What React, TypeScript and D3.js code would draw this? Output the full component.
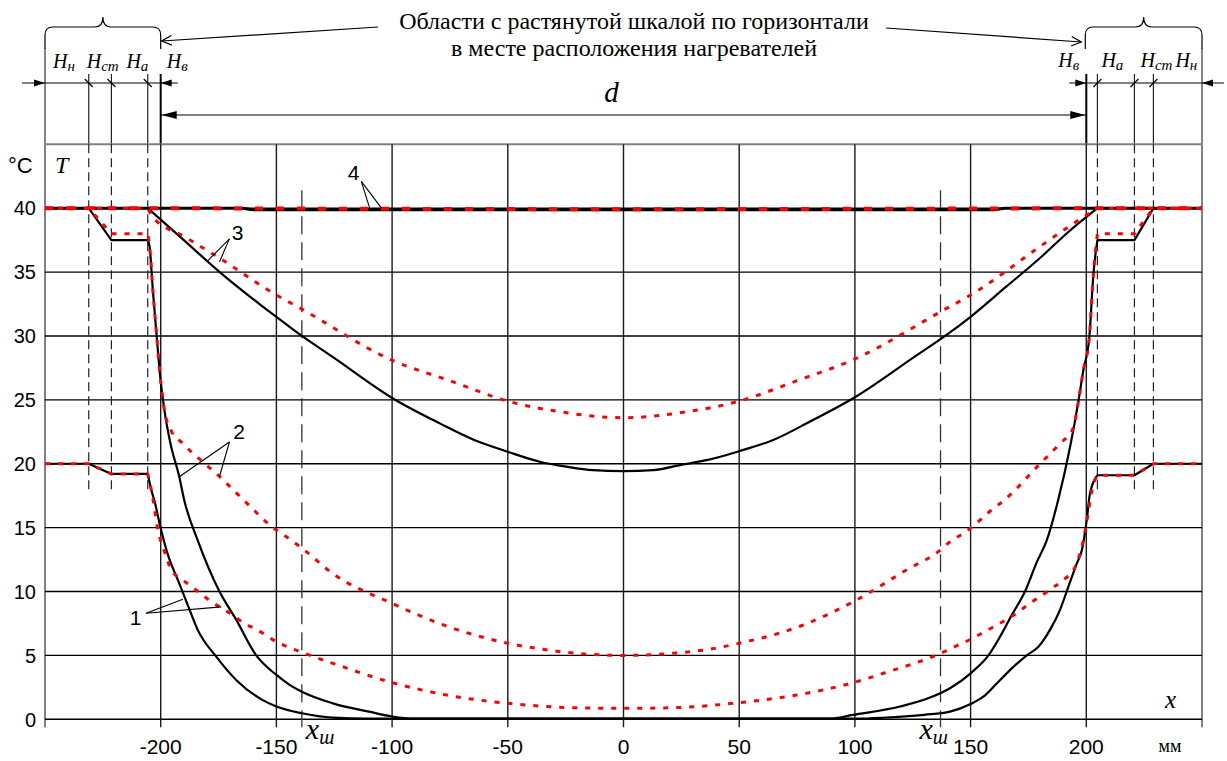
import React from "react";
import * as d3 from "d3";

type P = [number, number];

// ---- axes ----
const yTickValues = [0, 5, 10, 15, 20, 25, 30, 35, 40];
const xTickValues = [-200, -150, -100, -50, 0, 50, 100, 150, 200];
const xTickLabels = ["-200", "-150", "-100", "-50", "0", "50", "100", "150", "200"];
const xEdgeValues = [-250, 250];
const heaterEdges = [-200, 200];
const layersLeft = [-231.1, -221.3, -205.6];
const layersRight = [204.8, 220.8, 229.0];
const xShValues = [-139, 137];
const hSubsLeft = ["н", "ст", "а", "в"];
const hSubsRight = ["в", "а", "ст", "н"];
const titleLines = [
  "Области с растянутой шкалой по горизонтали",
  "в месте расположения нагревателей",
];

// ---- series (x in mm, T in °C) ----
const curve4Black: P[] = [
  [-250, 40], [-205.6, 40], [-165, 40], [-160, 39.88], [160, 39.88], [165, 40], [204.8, 40], [250, 40],
];
const curve4Red: P[] = [
  [-250, 40], [-205.6, 40], [-100, 39.95], [0, 39.92], [100, 39.95], [204.8, 40], [250, 40],
];
const curve3Black: P[] = [
  [-250, 40], [-205.6, 40], [-190, 37.5], [-174.5, 35.0], [-157.3, 32.5], [-150, 31.5], [-139, 30.0],
  [-126, 28.4], [-100, 25.15], [-79.4, 23.16], [-65, 21.9], [-50, 20.94], [-36.2, 20.16],
  [-24.7, 19.77], [-13.2, 19.5], [0, 19.43], [12.8, 19.5], [25.8, 19.95], [36.5, 20.3],
  [50.3, 21.0], [64.7, 21.86], [80.6, 23.3], [100, 25.2], [126, 28.4], [139, 30.0],
  [150, 31.5], [165, 33.8], [180, 36.1], [192, 38.1], [204.8, 40], [250, 40],
];
const curve3Red: P[] = [
  [-250, 40], [-205.6, 40], [-203.4, 39.3], [-190, 37.8], [-174.6, 36.1], [-150, 33.2], [-139, 32.1],
  [-100, 28.1], [-75, 26.5], [-50, 24.9], [-27.5, 24.07], [0, 23.6], [27.5, 24.07], [50, 24.9],
  [75, 26.5], [100, 28.2], [139, 32.1], [150, 33.2], [180, 37.0], [194.4, 38.8], [204.8, 40], [250, 40],
];
const curve2Black: P[] = [
  [-250, 40], [-231.1, 40], [-221.3, 37.5], [-205.6, 37.5], [-204.8, 37.0], [-203.4, 33.6],
  [-201.7, 29.9], [-200.2, 26.8], [-198.4, 24.2], [-195.8, 21.6], [-192, 19.0], [-189.9, 17.2],
  [-184, 14.0], [-174.6, 10.0], [-167.4, 7.8], [-158.7, 5.0], [-150, 3.47], [-144.3, 2.7],
  [-139, 2.16], [-125.6, 1.25], [-110, 0.6], [-100, 0.22], [-90, 0.06], [-50, 0.05], [0, 0.05],
  [50, 0.05], [90, 0.06], [99, 0.34], [119.5, 1.0], [132.5, 1.7], [141.1, 2.43], [150, 3.6],
  [157.7, 5.0], [162.7, 6.46], [167.8, 8.16], [173.5, 10.0], [178.6, 12.3], [182.9, 14.0],
  [187.9, 17.2], [193.2, 21.5], [196.6, 24.9], [198.7, 27.3], [201.3, 29.9], [203.1, 34.9],
  [204.8, 37.5], [220.8, 37.5], [229, 40], [250, 40],
];
const curve2Red: P[] = [
  [-250, 40], [-231.1, 40], [-221.3, 38], [-205.6, 38], [-204.8, 37.0], [-203.4, 33.6],
  [-201.7, 29.9], [-200.2, 26.8], [-198.4, 24.2], [-195.5, 22.6], [-190.5, 21.6], [-174.6, 19.0],
  [-161, 16.6], [-152.9, 15.2], [-145, 14.2], [-139, 13.4], [-125.6, 11.4], [-100, 9.07],
  [-76.5, 7.3], [-50, 5.95], [-37.6, 5.56], [-20.3, 5.16], [0, 5.0], [20.3, 5.15], [37.6, 5.5],
  [50, 5.95], [76.5, 7.3], [99.3, 9.2], [122.4, 11.7], [137, 13.25], [141.1, 13.9], [146.9, 14.55],
  [154.8, 15.7], [159.1, 16.4], [164.2, 17.1], [180, 20.0], [188.7, 21.6], [194.4, 22.8],
  [196.6, 24.9], [198.7, 27.3], [201.3, 29.9], [203.1, 34.9], [204.8, 38], [220.8, 38], [229, 40],
  [250, 40],
];
const curve1Black: P[] = [
  [-250, 20], [-231.1, 20], [-221.3, 19.2], [-205.6, 19.2], [-204, 17.9], [-202.7, 17.1],
  [-200, 14.95], [-197.1, 13.0], [-192, 10.64], [-188, 8.8], [-184, 7.0], [-176, 4.9],
  [-167.4, 3.08], [-155.9, 1.5], [-150, 1.0], [-139, 0.47], [-125.6, 0.13], [-110, 0.05], [0, 0.05],
  [100, 0.05], [112, 0.12], [130, 0.35], [141.1, 0.6], [150, 1.2], [155.5, 1.77], [161.3, 2.8],
  [168.5, 4.1], [174.3, 5.0], [179.3, 5.68], [184.3, 7.0], [188.6, 8.55], [192.3, 10.4],
  [195.9, 12.2], [198.1, 13.25], [200.2, 15.6], [201.6, 17.7], [204.8, 19.1], [220.8, 19.1],
  [229, 20], [250, 20],
];
const curve1Red: P[] = [
  [-250, 20], [-231.1, 20], [-221.3, 19.2], [-205.6, 19.2], [-204, 17.9], [-202.7, 16.5],
  [-201.7, 15.3], [-200.5, 14.3], [-197.9, 12.9], [-195.5, 11.7], [-190.4, 10.9], [-184.6, 10.1],
  [-179.6, 9.4], [-174.6, 8.8], [-168.8, 8.16], [-163.8, 7.5], [-158.7, 7.04], [-150, 6.07],
  [-139, 5.24], [-125.6, 4.38], [-100, 2.87], [-76.5, 1.9], [-50, 1.25], [-20, 0.9], [0, 0.86],
  [20, 0.9], [50, 1.3], [74.8, 1.9], [99.3, 2.87], [112.3, 3.6], [137, 5.16], [146.2, 5.95],
  [150, 6.26], [155.5, 6.8], [160.6, 7.3], [166.3, 7.9], [171.4, 8.5], [175.7, 9.1], [180, 9.6],
  [185.1, 10.25], [190.8, 11.0], [195.1, 11.9], [198.7, 14.0], [200.5, 15.8], [202.4, 17.9],
  [204.8, 19.1], [220.8, 19.1], [229, 20], [250, 20],
];

// curve number labels: text anchor point and leader line ends (data units)
const curveLabels = ["1", "2", "3", "4"];
const labelAnchors: P[] = [[-210.9, 7.4], [-166.1, 21.9], [-166.8, 37.5], [-116.6, 42.2]];
const leaderStarts: P[] = [[-206.3, 8.3], [-170.3, 21.7], [-170.3, 37.6], [-113.3, 42.1]];
const leaderEndsBlack: P[] = [[-190.4, 9.4], [-191.8, 19.0], [-179.6, 35.9], [-109.7, 40]];
const leaderEndsRed: P[] = [[-173.8, 8.8], [-174.6, 19.0], [-174.6, 35.8], [-104.6, 40]];

export default function App() {
  const W = 1227;
  const H = 761;
  const x = d3.scaleLinear().domain([-250, 250]).range([45, 1202]);
  const y = d3.scaleLinear().domain([0, 45]).range([719.3, 144.3]);
  const serif = "'Times New Roman', 'Liberation Serif', serif";
  const sans = "Arial, 'Liberation Sans', sans-serif";

  const lin = d3.line<P>().x((d) => x(d[0])).y((d) => y(d[1]));
  const mono = d3
    .line<P>()
    .x((d) => x(d[0]))
    .y((d) => y(d[1]))
    .curve(d3.curveMonotoneX);
  const pathOf = (data: P[]) => {
    const iL = data.findIndex((d) => d[0] >= -205.7);
    const iR = data.findIndex((d) => d[0] >= 204.7);
    const left = data.slice(0, iL + 1);
    const mid = data.slice(iL, iR + 1);
    const right = data.slice(iR);
    return (
      (lin(left) || "") +
      (mono(mid) || "").replace(/^M/, "L") +
      (lin(right) || "").replace(/^M/, "L")
    );
  };

  const series = [
    { data: curve4Black, stroke: "#000", w: 3, dash: undefined as string | undefined },
    { data: curve3Black, stroke: "#000", w: 2.2, dash: undefined },
    { data: curve2Black, stroke: "#000", w: 2.2, dash: undefined },
    { data: curve1Black, stroke: "#000", w: 2.2, dash: undefined },
    { data: curve4Red, stroke: "#ff0000", w: 4, dash: "8 13" },
    { data: curve3Red, stroke: "#ff0000", w: 3, dash: "5 8" },
    { data: curve2Red, stroke: "#ff0000", w: 3, dash: "5 8" },
    { data: curve1Red, stroke: "#ff0000", w: 3, dash: "5 8" },
  ];

  const yTop = y(45);
  const yBot = y(0);
  const xL = x(-250);
  const xR = x(250);
  const xHL = x(-200);
  const xHR = x(200);

  const brace = (x0: number, x1: number) => {
    const top = 27, end = 49, tip = 17, r = 8;
    const m = (x0 + x1) / 2;
    return `M${x0},${end} L${x0},${top + r} Q${x0},${top} ${x0 + r},${top} L${m - r},${top} Q${m},${top} ${m},${tip} Q${m},${top} ${m + r},${top} L${x1 - r},${top} Q${x1},${top} ${x1},${top + r} L${x1},${end}`;
  };
  const filledHead = (tx: number, ty: number, dir: number, len: number, half: number) =>
    `M${tx},${ty} L${tx - dir * len},${ty - half} L${tx - dir * len},${ty + half} Z`;
  const openHead = (fx: number, fy: number, tx: number, ty: number) => {
    const a = Math.atan2(ty - fy, tx - fx);
    const L = 11, s = 0.45;
    const p1 = [tx - L * Math.cos(a - s), ty - L * Math.sin(a - s)];
    const p2 = [tx - L * Math.cos(a + s), ty - L * Math.sin(a + s)];
    return `M${p1[0]},${p1[1]} L${tx},${ty} L${p2[0]},${p2[1]}`;
  };

  const dimY = 83;
  const dY = 115;
  const titleX = 634;

  return (
    <svg
      width={W}
      height={H}
      viewBox={`0 0 ${W} ${H}`}
      style={{ position: "absolute", left: 0, top: 0, background: "#fff" }}
    >
      <rect x={0} y={0} width={W} height={H} fill="#fff" />

      {/* title */}
      <g fontFamily={serif} fontSize={24} fill="#000" textAnchor="middle">
        {titleLines.map((t, i) => (
          <text key={i} x={titleX} y={29 + i * 27}>
            {t}
          </text>
        ))}
      </g>
      {/* title arrows and braces */}
      <g stroke="#000" strokeWidth={1.2} fill="none">
        <line x1={378} y1={27} x2={xHL + 1} y2={41} />
        <path d={openHead(378, 27, xHL + 1, 41)} />
        <line x1={886} y1={28} x2={xHR - 5} y2={42} />
        <path d={openHead(886, 28, xHR - 5, 42)} />
        <path d={brace(xL, xHL)} />
        <path d={brace(xHR - 1, xR)} />
      </g>

      {/* top region verticals */}
      <g stroke="#000" fill="none">
        {xEdgeValues.map((v) => (
          <line key={v} x1={x(v)} x2={x(v)} y1={48} y2={yTop} strokeWidth={1.3} stroke="#444" />
        ))}
        {[...layersLeft, ...layersRight].map((v) => (
          <line key={v} x1={x(v)} x2={x(v)} y1={74} y2={yTop} strokeWidth={1.2} stroke="#222" />
        ))}
        {heaterEdges.map((v) => (
          <line key={v} x1={x(v)} x2={x(v)} y1={74} y2={yTop} strokeWidth={2} />
        ))}
      </g>

      {/* dimension lines */}
      <g stroke="#000" strokeWidth={1.2}>
        <line x1={xL - 23} x2={xHL + 17} y1={dimY} y2={dimY} />
        <line x1={xHR - 17} x2={xR + 22} y1={dimY} y2={dimY} />
        {layersLeft.map((v) => (
          <line key={v} x1={x(v) - 4} x2={x(v) + 4} y1={dimY - 4} y2={dimY + 4} />
        ))}
        {layersRight.map((v) => (
          <line key={v} x1={x(v) - 4} x2={x(v) + 4} y1={dimY + 4} y2={dimY - 4} />
        ))}
        <line x1={xHL} x2={xHR} y1={dY} y2={dY} />
      </g>
      <g fill="#000">
        <path d={filledHead(xL, dimY, 1, 11, 3.5)} />
        <path d={filledHead(xHL, dimY, -1, 11, 3.5)} />
        <path d={filledHead(xHR, dimY, 1, 11, 3.5)} />
        <path d={filledHead(xR, dimY, -1, 11, 3.5)} />
        <path d={filledHead(xHL + 1, dY, -1, 15, 4)} />
        <path d={filledHead(xHR - 1, dY, 1, 15, 4)} />
      </g>
      <text x={x(0) - 12} y={102} fontFamily={serif} fontStyle="italic" fontSize={29} textAnchor="middle">
        d
      </text>

      {/* H labels */}
      <g fontFamily={serif} fontStyle="italic" fill="#000">
        {hSubsLeft.map((s, i) => {
          const px = [xL + 8, x(layersLeft[0]) - 2, x(layersLeft[1]) + 15, xHL + 6][i];
          return (
            <text key={"l" + i} x={px} y={68} fontSize={20}>
              H<tspan fontSize={15} dy={3}>{s}</tspan>
            </text>
          );
        })}
        {hSubsRight.map((s, i) => {
          const px = [xHR - 28, x(layersRight[0]) + 4, x(layersRight[1]) + 6, x(layersRight[2]) + 22][i];
          return (
            <text key={"r" + i} x={px} y={67} fontSize={20}>
              H<tspan fontSize={15} dy={3}>{s}</tspan>
            </text>
          );
        })}
      </g>

      {/* plot frame */}
      <g fill="none">
        <line x1={xL} x2={xR} y1={yTop} y2={yTop} stroke="#808080" strokeWidth={2} />
        {xEdgeValues.map((v) => (
          <line key={v} x1={x(v)} x2={x(v)} y1={yTop} y2={yBot + 8} stroke="#808080" strokeWidth={2} />
        ))}
        {yTickValues.map((v) => (
          <line key={v} x1={xL} x2={xR} y1={y(v)} y2={y(v)} stroke="#000" strokeWidth={1.4} />
        ))}
        {xTickValues.map((v) => (
          <line key={v} x1={x(v)} x2={x(v)} y1={yTop} y2={yBot + 8} stroke="#1a1a1a" strokeWidth={1.4} />
        ))}
      </g>

      {/* layer boundary dashed lines */}
      <g stroke="#222" strokeWidth={1.2} strokeDasharray="9 5" fill="none">
        {[...layersLeft, ...layersRight].map((v) => (
          <line key={v} x1={x(v)} x2={x(v)} y1={yTop} y2={y(17.8)} />
        ))}
      </g>
      <g stroke="#333" strokeWidth={1.3} strokeDasharray="18 8" fill="none">
        {xShValues.map((v) => (
          <line key={v} x1={x(v)} x2={x(v)} y1={y(41.4)} y2={yBot + 8} />
        ))}
      </g>

      {/* series */}
      <g fill="none" strokeLinejoin="round">
        {series.map((s, i) => (
          <path key={i} d={pathOf(s.data)} stroke={s.stroke} strokeWidth={s.w} strokeDasharray={s.dash} />
        ))}
      </g>

      {/* curve labels */}
      <g stroke="#000" strokeWidth={1.1}>
        {curveLabels.map((_, i) => (
          <g key={i}>
            <line x1={x(leaderStarts[i][0])} y1={y(leaderStarts[i][1])} x2={x(leaderEndsBlack[i][0])} y2={y(leaderEndsBlack[i][1])} />
            <line x1={x(leaderStarts[i][0])} y1={y(leaderStarts[i][1])} x2={x(leaderEndsRed[i][0])} y2={y(leaderEndsRed[i][1])} />
          </g>
        ))}
      </g>
      <g fontFamily={sans} fontSize={21} fill="#000" textAnchor="middle">
        {curveLabels.map((t, i) => (
          <text key={t} x={x(labelAnchors[i][0])} y={y(labelAnchors[i][1])}>
            {t}
          </text>
        ))}
      </g>

      {/* y axis labels */}
      <g fontFamily={sans} fontSize={20} fill="#000" textAnchor="end">
        {yTickValues.map((v) => (
          <text key={v} x={36} y={y(v)} dy="0.36em">
            {v}
          </text>
        ))}
      </g>
      <text x={8} y={173} fontFamily={sans} fontSize={22}>°C</text>
      <text x={55} y={173} fontFamily={serif} fontStyle="italic" fontSize={24}>T</text>

      {/* x axis labels */}
      <g fontFamily={sans} fontSize={21} fill="#000" textAnchor="middle">
        {xTickValues.map((v, i) => (
          <text key={v} x={x(v)} y={754}>
            {xTickLabels[i]}
          </text>
        ))}
      </g>
      <text x={xR - 32} y={752} fontFamily={serif} fontSize={18} textAnchor="middle">мм</text>
      <text x={xR - 37} y={708} fontFamily={serif} fontStyle="italic" fontSize={25}>x</text>
      {xShValues.map((v, i) => (
        <text key={v} x={i === 0 ? x(v) + 4 : x(v) - 21} y={739} fontFamily={serif} fontStyle="italic" fontSize={30}>
          x<tspan fontSize={20} dy={5}>ш</tspan>
        </text>
      ))}
    </svg>
  );
}
